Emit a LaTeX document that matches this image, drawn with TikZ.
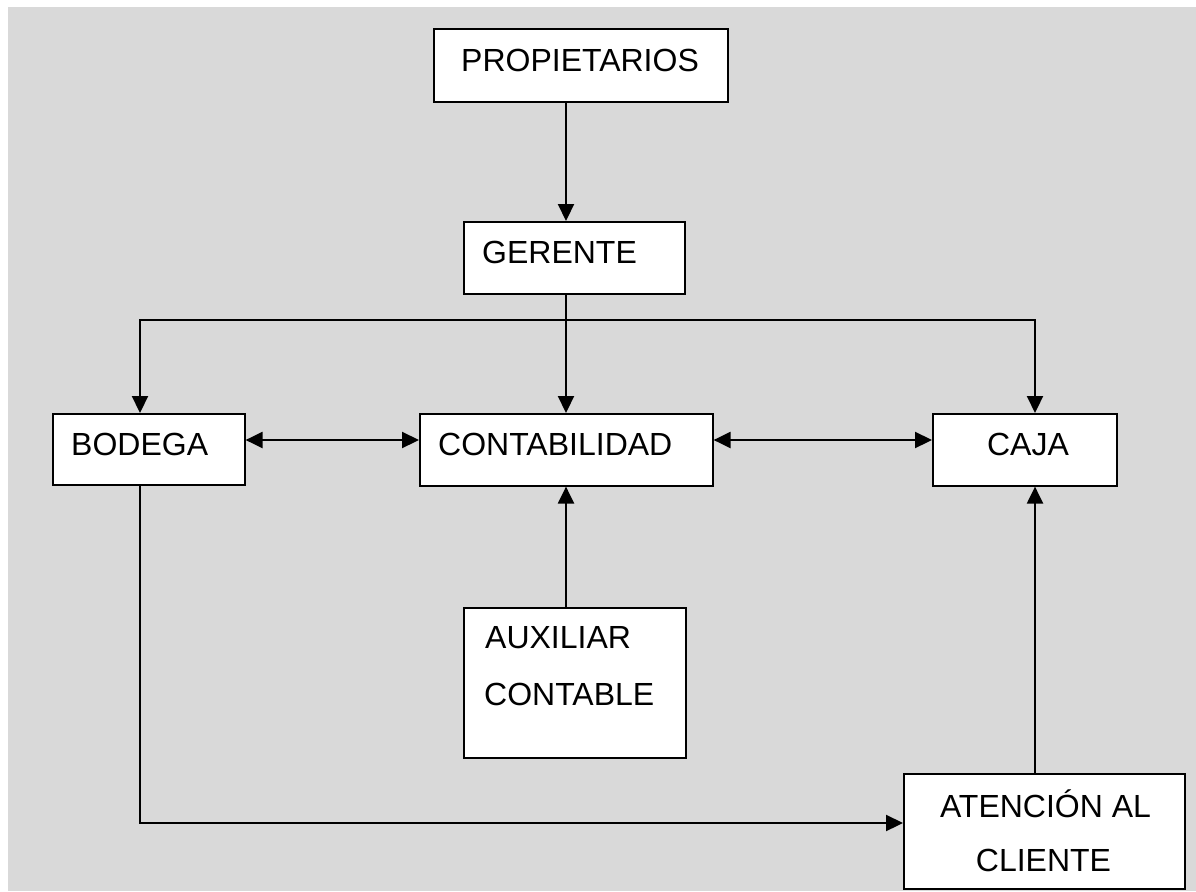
\documentclass[tikz,border=0pt]{standalone}
\usepackage{fontspec}
\setmainfont{Liberation Sans}
\usetikzlibrary{arrows.meta}
\begin{document}
\begin{tikzpicture}[x=1pt,y=-1pt,
  box/.style={draw=black, fill=white, line width=1.6pt, inner sep=0pt, anchor=north west},
  txt/.style={inner sep=0pt, font=\fontsize{32}{38}\selectfont},
  conn/.style={line width=2.2pt, draw=black},
  arr/.style={conn, -{Triangle[length=17pt,width=16pt]}},
  darr/.style={conn, {Triangle[length=17pt,width=16pt]}-{Triangle[length=17pt,width=16pt]}}]
\useasboundingbox (0,0) rectangle (1196,891);
\fill[fill={rgb,255:red,217;green,217;blue,217}] (8,7) rectangle (1196,891);
% boxes
\node[box, minimum width=294pt, minimum height=73pt] (prop) at (433,28) {};
\node[box, minimum width=221pt, minimum height=72pt] (ger) at (463,221) {};
\node[box, minimum width=192pt, minimum height=71pt] (bod) at (52,413) {};
\node[box, minimum width=293pt, minimum height=72pt] (cont) at (419,413) {};
\node[box, minimum width=184pt, minimum height=72pt] (caja) at (932,413) {};
\node[box, minimum width=222pt, minimum height=150pt] (aux) at (463,607) {};
\node[box, minimum width=281pt, minimum height=115pt] (aten) at (903,773) {};
% texts
\node[txt, anchor=base] (tprop) at (580,71) {PROPIETARIOS};
\node[txt, anchor=base west] (tger) at (482,263) {GERENTE};
\node[txt, anchor=base west] (tbod) at (71,455) {BODEGA};
\node[txt, anchor=base west] (tcont) at (438,455) {CONTABILIDAD};
\node[txt, anchor=base] (tcaja) at (1028,455) {CAJA};
\node[txt, anchor=base west] (taux1) at (485,648) {AUXILIAR};
\node[txt, anchor=base west] (taux2) at (484,705) {CONTABLE};
\node[txt, anchor=base] (taten1) at (1045.5,817) {ATENCIÓN AL};
\node[txt, anchor=base] (taten2) at (1043.5,871) {CLIENTE};
% helper coordinates
\coordinate (mx) at (566,0);
\coordinate (lx) at (140,0);
\coordinate (rx) at (1035,0);
\coordinate (bus) at (0,320);
\coordinate (row) at (0,440);
\coordinate (low) at (0,823);
% connectors
\draw[arr] (prop.south -| mx) -- (ger.north -| mx);
\draw[conn] (ger.south -| mx) -- (bus -| mx);
\draw[arr] (bus -| lx) -- (bod.north -| lx);
\draw[arr] (bus -| mx) -- (cont.north -| mx);
\draw[arr] (bus -| rx) -- (caja.north -| rx);
\draw[conn, line cap=rect] (bus -| lx) -- (bus -| rx);
\draw[darr] (row -| bod.east) -- (row -| cont.west);
\draw[darr] (row -| cont.east) -- (row -| caja.west);
\draw[arr] (aux.north -| mx) -- (cont.south -| mx);
\draw[arr] (aten.north -| rx) -- (caja.south -| rx);
\draw[arr] (bod.south -| lx) -- (low -| lx) -- (low -| aten.west);
\end{tikzpicture}
\end{document}
